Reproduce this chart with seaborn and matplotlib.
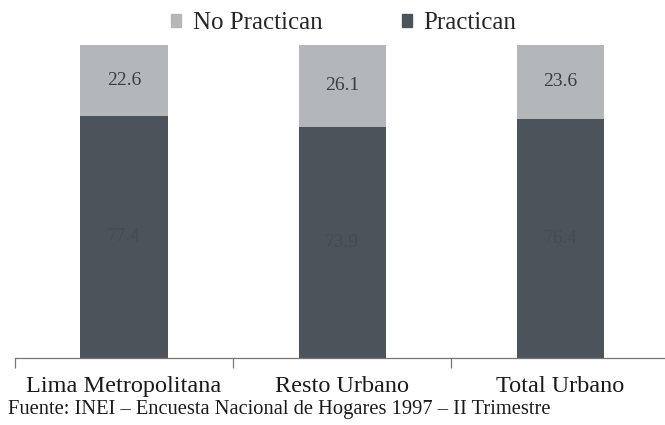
import pandas as pd
import matplotlib.pyplot as plt
import seaborn as sns
from matplotlib.patches import Patch

# data
categories = ["Lima Metropolitana", "Resto Urbano", "Total Urbano"]
practican = [77.4, 73.9, 76.4]
no_practican = [22.6, 26.1, 23.6]

light = "#b3b7ba"
dark = "#4b545a"


def main():
    sns.set_style("white")
    plt.rcParams["font.family"] = ["Liberation Serif", "DejaVu Serif"]

    df = pd.DataFrame({"cat": categories, "prac": practican, "noprac": no_practican})
    df["total"] = df["prac"] + df["noprac"]

    fig = plt.figure(figsize=(6.65, 4.25), dpi=100)
    ax = fig.add_axes([0.0226, 0.158, 0.9774, 0.736])

    sns.barplot(data=df, x="cat", y="total", color=light, width=0.4,
                saturation=1, ax=ax, edgecolor="none")
    sns.barplot(data=df, x="cat", y="prac", color=dark, width=0.4,
                saturation=1, ax=ax, edgecolor="none")

    # segment labels
    for i, (p, n) in enumerate(zip(practican, no_practican)):
        ax.text(i, p + n / 2, f"{n:.1f}", ha="center", va="center",
                fontsize=14, color="#3a3f44")
        ax.text(i, p / 2, f"{p:.1f}", ha="center", va="center",
                fontsize=14, color="#454d53")

    ax.set_ylim(0, 100)
    ax.set_xlim(-0.5, 2.48)
    ax.set_xlabel("")
    ax.set_ylabel("")
    ax.set_yticks([])
    ax.set_xticks([-0.5, 0.5, 1.5])
    ax.set_xticklabels([])
    ax.set_xticks(range(len(categories)), minor=True)
    ax.set_xticklabels(categories, minor=True, fontsize=17.5, color="#1a1a1a")
    ax.tick_params(axis="x", which="major", bottom=True, direction="out",
                   length=7, color="#777777", width=0.9)
    ax.tick_params(axis="x", which="minor", bottom=True, length=0, pad=13)
    for s in ["top", "right", "left"]:
        ax.spines[s].set_visible(False)
    ax.spines["bottom"].set_color("#777777")
    ax.spines["bottom"].set_linewidth(0.9)

    handles = [Patch(color=light, label="No Practican"),
               Patch(color=dark, label="Practican")]
    fig.legend(handles=handles, loc="center", bbox_to_anchor=(0.517, 0.945),
               ncol=2, frameon=False, fontsize=18, handlelength=0.4,
               handleheight=0.4, handletextpad=0.45, columnspacing=3.2)

    fig.text(0.012, 0.025, "Fuente: INEI – Encuesta Nacional de Hogares 1997 – II Trimestre",
             fontsize=14.8, color="#1a1a1a")

    fig.savefig("out.png", dpi=100)
    plt.close(fig)


if __name__ == "__main__":
    main()
